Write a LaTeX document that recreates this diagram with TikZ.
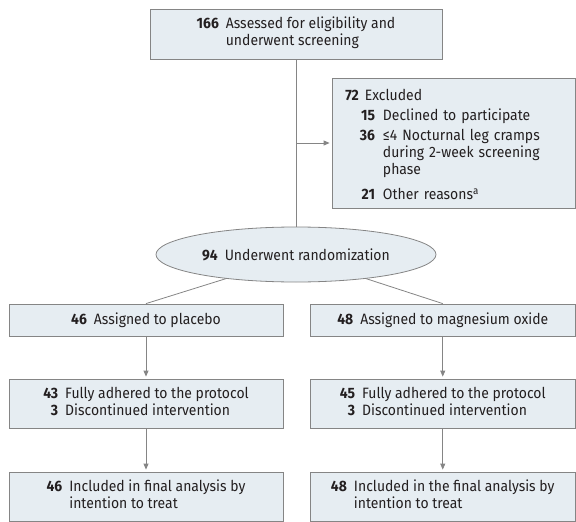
\documentclass[tikz,border=0pt]{standalone}
\usepackage{fontspec}
\setmainfont{Fira Sans}[FakeStretch=0.93]
\usepackage{tikz}
\usetikzlibrary{calc,shapes,arrows.meta,positioning}
\usepackage{xcolor}
\definecolor{boxfill}{HTML}{E6EDF2}
\definecolor{boxline}{HTML}{858585}
\definecolor{txtgray}{HTML}{231F20}
\newcommand{\nb}[1]{\textbf{#1}}

\begin{document}
\begin{tikzpicture}[x=1pt,y=-1pt,
		font=\fontsize{15}{17}\selectfont,
		box/.style={draw=boxline,fill=boxfill,line width=0.8pt,inner sep=0pt,text=txtgray,align=center},
		link/.style={draw=boxline,line width=0.8pt},
		arr/.style={link,-{Triangle[length=6pt,width=5pt]},shorten >=2pt}]
			\useasboundingbox (0,0) rectangle (576,522);
			% screening and exclusion
			\node[box,minimum width=292,minimum height=50] (screen) at (296,34)
			{\begin{tabular}{@{}r@{\hspace{7pt}}l@{}}\nb{166} & Assessed for eligibility and\\ & underwent screening\end{tabular}};
			\node[box,minimum width=243.5,minimum height=130,text width=217,align=left] (excl) at (453.75,143)
			{\begin{tabular}{@{}l@{\hspace{1pt}}r@{\hspace{8pt}}l@{}}
				\rule{0pt}{19pt}\nb{72} & \multicolumn{2}{@{\hspace{5pt}}l@{}}{Excluded}\\[3pt]
				& \nb{15} & Declined to participate\\[3pt]
				& \nb{36} & ≤4 Nocturnal leg cramps\\
				& & during 2-week screening\\
				& & phase\\[8pt]
				& \nb{21} & Other reasons\textsuperscript{a}
			\end{tabular}};
			\node[box,ellipse,minimum width=280,minimum height=55] (rand) at (296,254.5) {\nb{94}\hspace{7pt}Underwent randomization};
			% two arms
			\node[box,minimum width=274,minimum height=32] (asgP) at (146,320) {\nb{46}\hspace{7pt}Assigned to placebo};
			\node[box,minimum width=265.5,minimum height=32] (asgM) at (442.75,320) {\nb{48}\hspace{7pt}Assigned to magnesium oxide};
			\node[box,minimum width=274,minimum height=49] (adhP) at (146,403.5)
			{\begin{tabular}{@{}r@{\hspace{7pt}}l@{}}\nb{43} & Fully adhered to the protocol\\ \nb{3} & Discontinued intervention\end{tabular}};
			\node[box,minimum width=265.5,minimum height=49] (adhM) at (442.75,403.5)
			{\begin{tabular}{@{}r@{\hspace{7pt}}l@{}}\nb{45} & Fully adhered to the protocol\\ \nb{3} & Discontinued intervention\end{tabular}};
			\node[box,minimum width=274,minimum height=49] (itvP) at (146,496.5)
			{\begin{tabular}{@{}r@{\hspace{7pt}}l@{}}\nb{46} & Included in final analysis by\\ & intention to treat\end{tabular}};
			\node[box,minimum width=265.5,minimum height=49] (itvM) at (442.75,496.5)
			{\begin{tabular}{@{}r@{\hspace{7pt}}l@{}}\nb{48} & Included in the final analysis by\\ & intention to treat\end{tabular}};
			% connectors
			\coordinate (split) at (excl.west -| rand.north);
			\draw[link] (rand.north |- screen.south) -- (rand.north);
			\draw[arr] (split) -- (excl.west);
			\draw[link] (rand.199) -- (asgP.north);
			\draw[link] (rand.341) -- (asgM.north);
			\foreach \a/\b in {asgP/adhP,adhP/itvP,asgM/adhM,adhM/itvM}
			\draw[arr] (\a.south) -- (\b.north);
		\end{tikzpicture}
\end{document}
